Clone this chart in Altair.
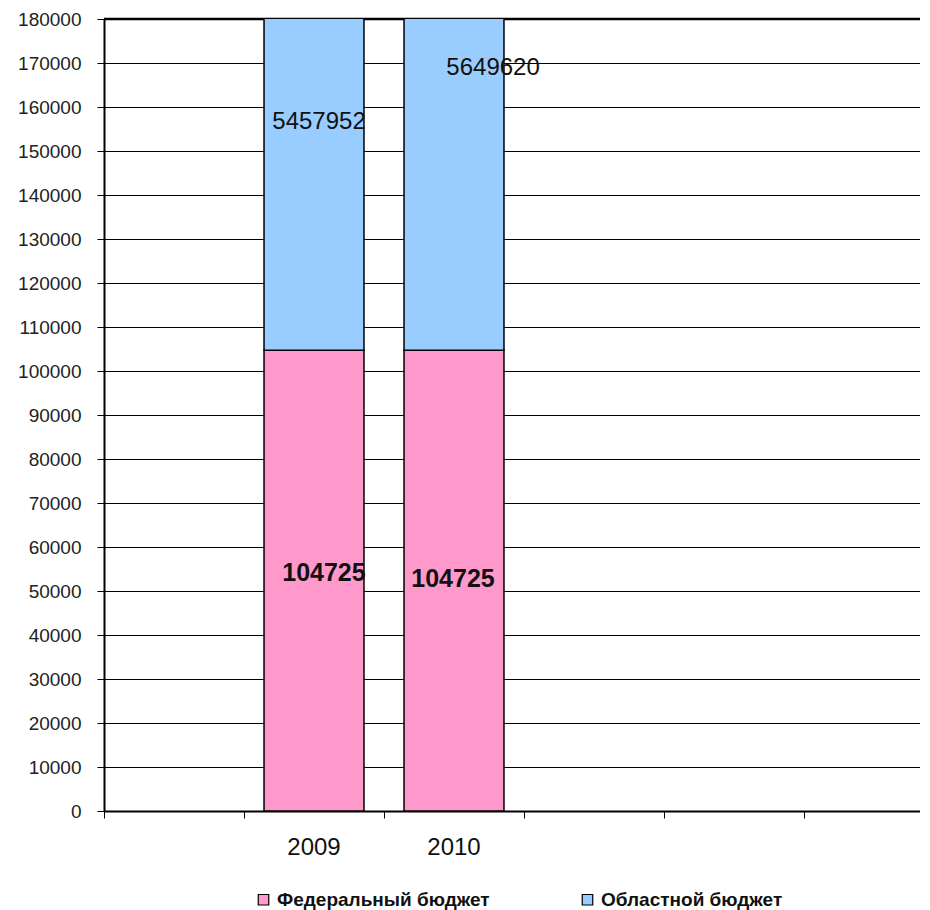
import altair as alt
import pandas as pd

years = ["2009", "2010"]
slots = [1, 2]
federal = [104725, 104725]
oblast = [5457952, 5649620]
series = ["Федеральный бюджет", "Областной бюджет"]
colors = ["#FF99CC", "#99CCFF"]
y_ticks = list(range(0, 180001, 10000))
x_ticks = [0, 1, 2, 3, 4, 5]
fed_label_x = [1.571, 2.493]
fed_label_y = [54090, 52620]
obl_label_x = [1.536, 2.779]
obl_label_y = [156620, 168800]

W, H = 816, 792
FONT = "Liberation Sans"

rows = []
for i, yr in enumerate(years):
    rows.append(dict(year=yr, series=series[0], lo=0, hi=federal[i],
                     label=str(federal[i]), slot=slots[i],
                     lx=fed_label_x[i], ly=fed_label_y[i]))
    rows.append(dict(year=yr, series=series[1], lo=federal[i],
                     hi=federal[i] + oblast[i], label=str(oblast[i]),
                     slot=slots[i], lx=obl_label_x[i], ly=obl_label_y[i]))
df = pd.DataFrame(rows)
years_df = pd.DataFrame({"year": years, "slot": slots})

xscale = alt.Scale(domain=[0, W / 140.0], nice=False, zero=False)
yscale = alt.Scale(domain=[0, 180000], nice=False)

base = alt.Chart(df)

bars = base.transform_calculate(
    x0="datum.slot + 0.143", x1="datum.slot + 0.857"
).mark_bar(stroke="black", strokeWidth=1.5, clip=True).encode(
    x=alt.X("x0:Q", scale=xscale,
            axis=alt.Axis(values=x_ticks, labels=False, title=None, grid=False,
                          tickSize=7, tickColor="black", tickWidth=1,
                          domainColor="black", domainWidth=2)),
    x2="x1:Q",
    y=alt.Y("lo:Q", scale=yscale,
            axis=alt.Axis(values=y_ticks, format="d", title=None, grid=True,
                          gridColor="black", gridOpacity=1, gridWidth=1,
                          tickSize=7, tickColor="black",
                          domainColor="black", domainWidth=2, labelFont=FONT,
                          labelFontSize=19, labelColor="#222", labelPadding=16)),
    y2="hi:Q",
    color=alt.Color("series:N", scale=alt.Scale(domain=series, range=colors),
                    legend=alt.Legend(title=None, orient="none", direction="horizontal",
                                      legendX=150, legendY=871, symbolType="square",
                                      symbolSize=110, symbolStrokeColor="black",
                                      symbolStrokeWidth=1.2, symbolOpacity=1,
                                      labelFont=FONT, labelFontSize=19,
                                      labelFontWeight="bold", labelColor="#111",
                                      labelOffset=4, columnPadding=88, padding=0,
                                      labelLimit=400)),
)

top_rule = alt.Chart(pd.DataFrame({"v": [180000]})).mark_rule(
    color="black", strokeWidth=2.5).encode(y=alt.Y("v:Q", scale=yscale))

fed_text = base.transform_filter(alt.datum.series == series[0]).mark_text(
    font=FONT, fontSize=25, fontWeight="bold", color="#111", baseline="middle"
).encode(x=alt.X("lx:Q", scale=xscale), y=alt.Y("ly:Q", scale=yscale), text="label:N")

obl_text = base.transform_filter(alt.datum.series == series[1]).mark_text(
    font=FONT, fontSize=24, color="#111", baseline="middle"
).encode(x=alt.X("lx:Q", scale=xscale), y=alt.Y("ly:Q", scale=yscale), text="label:N")

year_text = alt.Chart(years_df).transform_calculate(
    xc="datum.slot + 0.5"
).mark_text(font=FONT, fontSize=24, color="#111", baseline="middle").encode(
    x=alt.X("xc:Q", scale=xscale), y=alt.value(H + 37), text="year:N")

chart = alt.layer(top_rule, bars, fed_text, obl_text, year_text).properties(
    width=W, height=H,
    padding={"left": 96, "top": 11, "right": 0, "bottom": 99},
    autosize=alt.AutoSizeParams(type="none"),
).configure_view(stroke=None).configure(background="white")

chart.save("out.html", embed_options={"renderer": "svg", "actions": False})
